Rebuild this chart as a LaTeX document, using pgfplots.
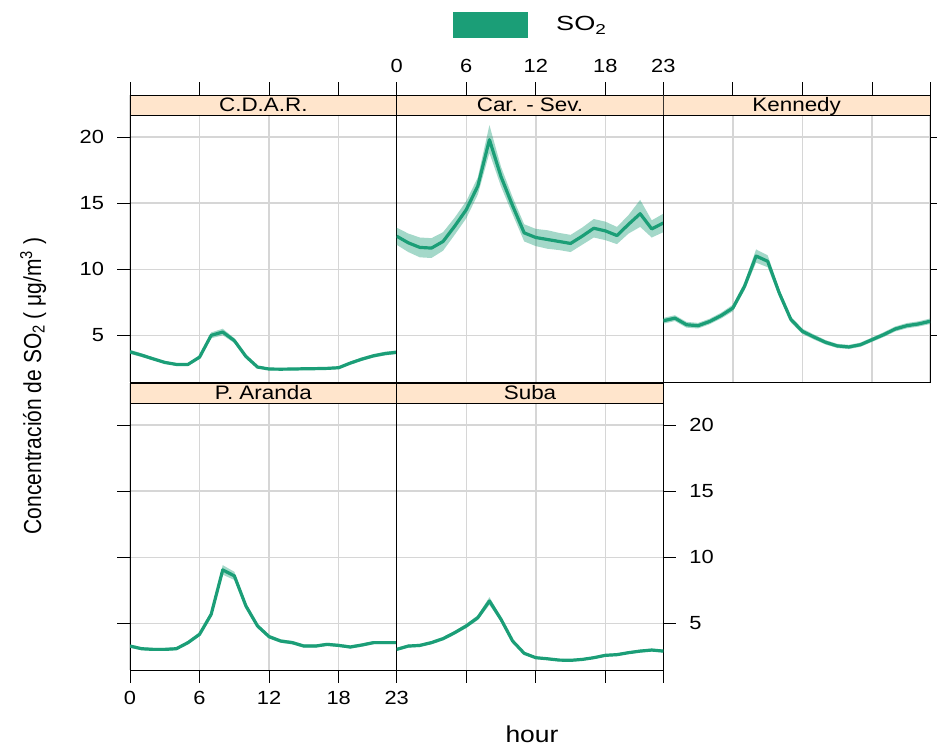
\documentclass[border=0pt]{standalone}
\usepackage{fontspec}
\setmainfont[FakeStretch=1.15]{Liberation Sans}
\newfontfamily\plainsf{Liberation Sans}
\usepackage{pgfplots}
\usepackage{pgfplotstable}
\pgfplotsset{compat=1.18}
\definecolor{so2}{HTML}{1B9E77}
\definecolor{strip}{HTML}{FFE5CC}

\pgfplotstableread{
h m lo hi
0 3.75 3.60 3.90
1 3.50 3.36 3.64
2 3.22 3.10 3.34
3 2.95 2.84 3.06
4 2.80 2.70 2.90
5 2.80 2.70 2.90
6 3.35 3.22 3.48
7 5.00 4.78 5.22
8 5.25 5.00 5.50
9 4.60 4.42 4.78
10 3.40 3.27 3.53
11 2.60 2.50 2.70
12 2.45 2.36 2.54
13 2.44 2.35 2.53
14 2.45 2.36 2.54
15 2.47 2.38 2.56
16 2.48 2.39 2.57
17 2.50 2.41 2.59
18 2.55 2.45 2.65
19 2.90 2.79 3.01
20 3.20 3.07 3.33
21 3.45 3.32 3.58
22 3.62 3.48 3.76
23 3.72 3.58 3.86
}\cdar

\pgfplotstableread{
h m lo hi
0 12.50 11.85 13.15
1 12.00 11.30 12.70
2 11.65 10.90 12.40
3 11.60 10.85 12.35
4 12.10 11.40 12.80
5 13.25 12.60 13.90
6 14.50 13.85 15.15
7 16.30 15.65 16.95
8 19.80 18.80 20.90
9 17.00 16.25 17.75
10 14.80 14.15 15.45
11 12.75 12.10 13.40
12 12.40 11.75 13.05
13 12.25 11.55 12.95
14 12.10 11.45 12.75
15 11.95 11.30 12.60
16 12.50 11.85 13.15
17 13.10 12.40 13.80
18 12.90 12.20 13.60
19 12.55 11.90 13.20
20 13.40 12.70 14.10
21 14.20 13.20 15.25
22 13.05 12.40 13.70
23 13.50 12.80 14.20
}\carsev

\pgfplotstableread{
h m lo hi
0 6.10 5.88 6.32
1 6.30 6.08 6.52
2 5.80 5.58 6.02
3 5.73 5.52 5.94
4 6.05 5.84 6.26
5 6.50 6.28 6.72
6 7.07 6.82 7.32
7 8.70 8.40 9.00
8 11.00 10.50 11.50
9 10.60 10.15 11.05
10 8.20 7.92 8.48
11 6.20 5.98 6.42
12 5.30 5.10 5.50
13 4.87 4.68 5.06
14 4.47 4.30 4.64
15 4.20 4.04 4.36
16 4.12 3.96 4.28
17 4.29 4.13 4.45
18 4.67 4.50 4.84
19 5.05 4.87 5.23
20 5.48 5.29 5.67
21 5.73 5.53 5.93
22 5.86 5.66 6.06
23 6.06 5.85 6.27
}\kennedy

\pgfplotstableread{
h m lo hi
0 3.28 3.16 3.40
1 3.08 2.97 3.19
2 3.03 2.92 3.14
3 3.03 2.92 3.14
4 3.08 2.97 3.19
5 3.54 3.41 3.67
6 4.17 4.02 4.32
7 5.68 5.48 5.88
8 9.04 8.68 9.40
9 8.59 8.28 8.90
10 6.31 6.10 6.52
11 4.80 4.64 4.96
12 3.99 3.85 4.13
13 3.66 3.53 3.79
14 3.54 3.41 3.67
15 3.28 3.16 3.40
16 3.28 3.16 3.40
17 3.41 3.29 3.53
18 3.33 3.21 3.45
19 3.21 3.09 3.33
20 3.36 3.24 3.48
21 3.54 3.42 3.66
22 3.54 3.42 3.66
23 3.54 3.42 3.66
}\paranda

\pgfplotstableread{
h m lo hi
0 3.03 2.92 3.14
1 3.28 3.16 3.40
2 3.33 3.21 3.45
3 3.54 3.42 3.66
4 3.84 3.71 3.97
5 4.29 4.15 4.43
6 4.80 4.64 4.96
7 5.43 5.25 5.61
8 6.69 6.40 6.98
9 5.30 5.12 5.48
10 3.66 3.53 3.79
11 2.73 2.63 2.83
12 2.40 2.31 2.49
13 2.32 2.23 2.41
14 2.22 2.13 2.31
15 2.20 2.11 2.29
16 2.27 2.18 2.36
17 2.40 2.31 2.49
18 2.58 2.48 2.68
19 2.63 2.53 2.73
20 2.78 2.68 2.88
21 2.90 2.79 3.01
22 2.98 2.87 3.09
23 2.90 2.79 3.01
}\suba

\pgfplotsset{
  panel/.style={
    scale only axis, width=266.67pt, height=287pt,
    xmin=0, xmax=23, ymin=1.47, ymax=23.18,
    xtick={0,6,12,18,23}, ytick={5,10,15,20},
    xmajorgrids, ymajorgrids,
    major grid style={draw=black!16, line width=1.4pt},
    axis line style={line width=0.9pt, black},
    tick align=outside, major tick length=12.5pt,
    every tick/.style={black, line width=0.9pt},
    tick label style={font=\fontsize{19}{22}\selectfont},
    /pgf/number format/assume math mode=true,
  },
}
\tikzset{striplab/.style={anchor=base, font=\fontsize{19.5}{22}\selectfont}}

\newcommand{\ribbon}[1]{%
  \addplot[draw=none, stack plots=y, forget plot] table[x=h,y=lo]{#1};
  \addplot[fill=so2, fill opacity=0.4, draw=none, stack plots=y, forget plot]
     table[x=h, y expr=\thisrow{hi}-\thisrow{lo}]{#1} \closedcycle;
  \addplot[so2, line width=3.2pt, line join=round, stack plots=false] table[x=h,y=m]{#1};
}
\newcommand{\stripbox}[1]{%
  \draw[fill=strip, line width=0.9pt] (rel axis cs:0,0.9303) rectangle (rel axis cs:1,1);
  \node[striplab] at (rel axis cs:0.5,0.9428) {#1};
}

\begin{document}
\begin{tikzpicture}
\useasboundingbox (0,0) rectangle (937pt,745pt);

% top row
\begin{axis}[panel, at={(130pt,363pt)}, anchor=south west,
  xtick pos=top, xticklabels={}, ytick pos=left,
  yticklabel style={xshift=-10pt}]
  \ribbon{\cdar}
  \stripbox{C.D.A.R.}
\end{axis}
\begin{axis}[panel, at={(396.67pt,363pt)}, anchor=south west,
  xtick pos=top, xticklabel pos=top, xticklabel style={yshift=6.5pt},
  yticklabels={}, y tick style={draw=none}]
  \ribbon{\carsev}
  \stripbox{Car. - Sev.}
\end{axis}
\begin{axis}[panel, at={(663.33pt,363pt)}, anchor=south west,
  xtick pos=top, xticklabels={}, ytick pos=right, yticklabels={}]
  \ribbon{\kennedy}
  \stripbox{Kennedy}
\end{axis}

% bottom row
\begin{axis}[panel, at={(130pt,75pt)}, anchor=south west,
  xtick pos=bottom, xticklabel style={yshift=-5.5pt},
  ytick pos=left, yticklabels={}]
  \ribbon{\paranda}
  \stripbox{P. Aranda}
\end{axis}
\begin{axis}[panel, at={(396.67pt,75pt)}, anchor=south west,
  xtick pos=bottom, xticklabels={}, ytick pos=right, yticklabel pos=right,
  yticklabel style={xshift=10pt}]
  \ribbon{\suba}
  \stripbox{Suba}
\end{axis}

% legend
\fill[so2] (453pt,707pt) rectangle (528pt,733pt);
\node[anchor=base west, xscale=1.15, font=\fontsize{20.5}{24}\selectfont, inner sep=0pt] at (556pt,714pt) {SO\textsubscript{2}};

% axis titles
\node[xscale=1.17, rotate=90, anchor=base, font=\plainsf\fontsize{21}{24}\selectfont, inner sep=0pt] at (41pt,359pt)
  {Concentración de SO\textsubscript{2} ( μg/m\textsuperscript{3} )};
\node[anchor=base, font=\fontsize{23}{26}\selectfont, inner sep=0pt] at (532pt,3pt) {hour};
\end{tikzpicture}
\end{document}
